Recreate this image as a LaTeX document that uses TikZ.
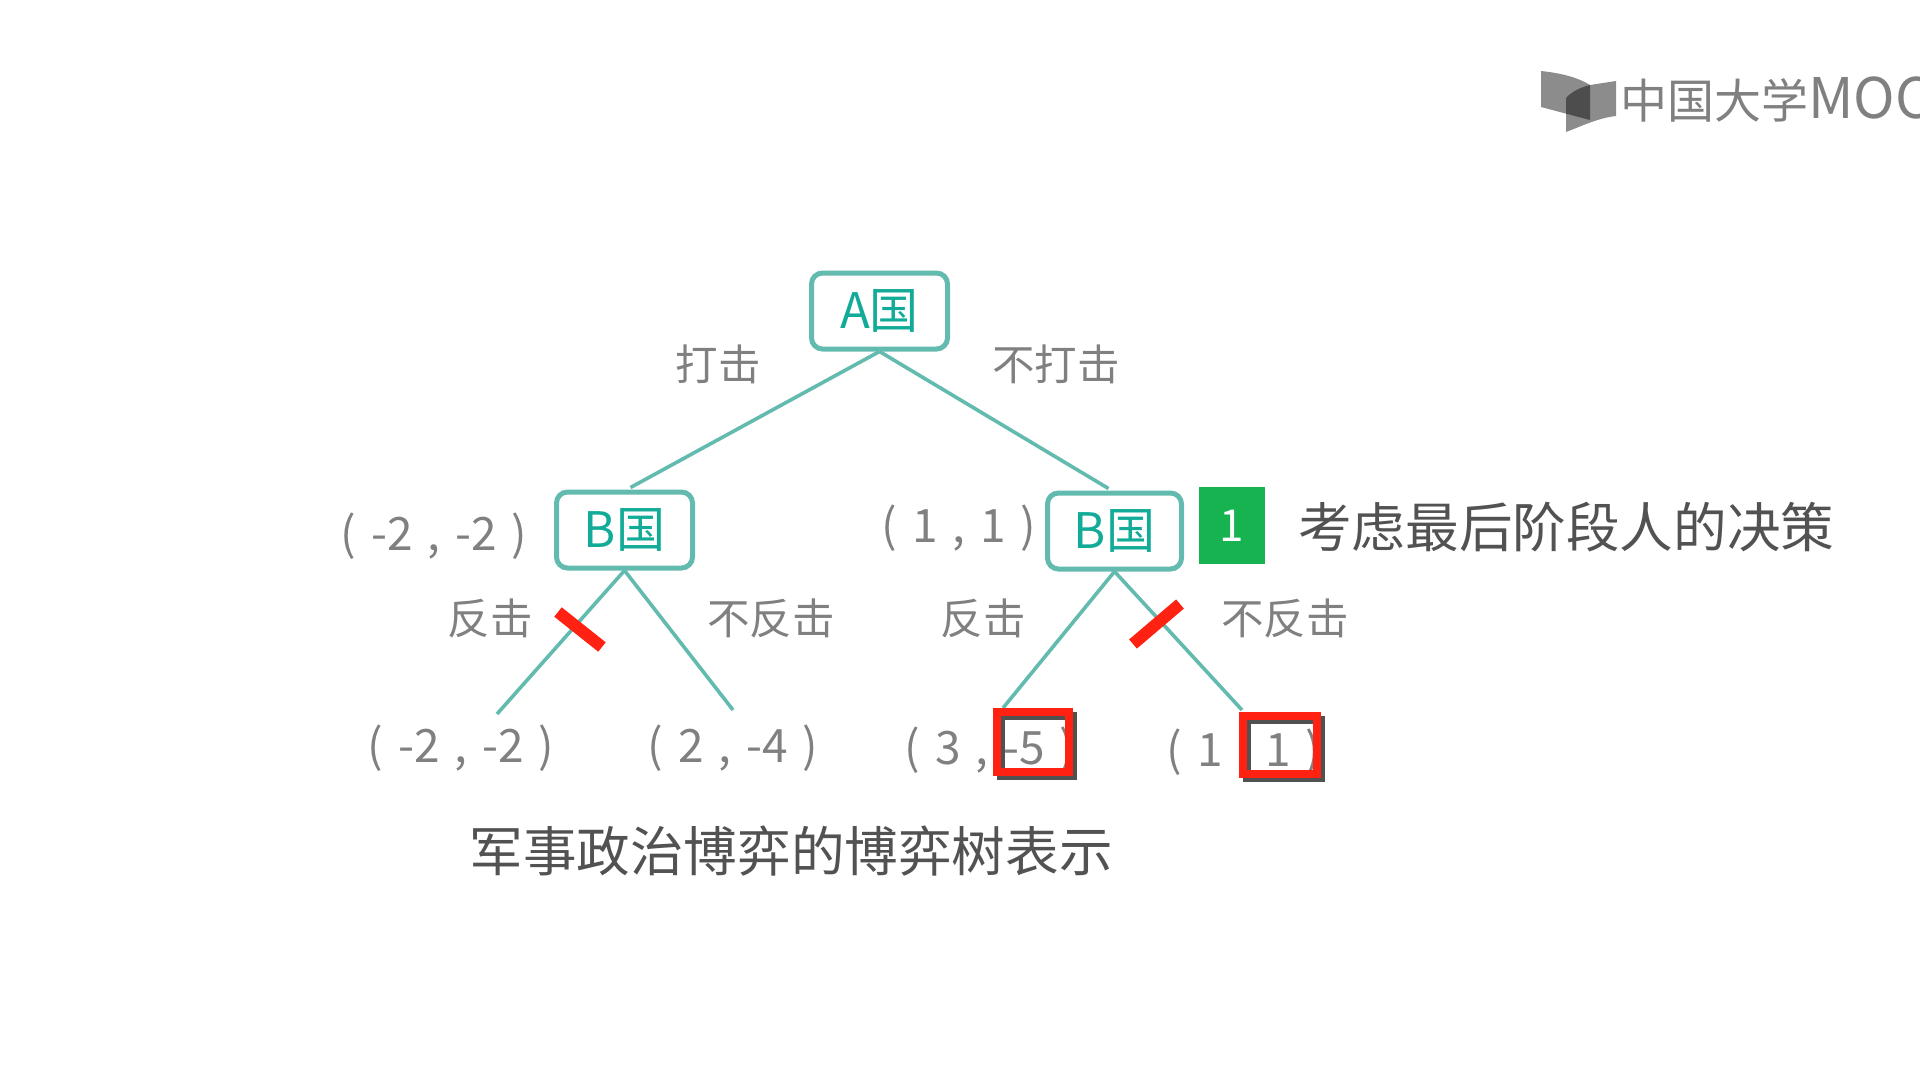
\documentclass[tikz,border=0pt]{standalone}
\usepackage{fontspec}
\setmainfont{Noto Sans CJK SC}
\definecolor{branchteal}{HTML}{62BBAE}
\definecolor{nameteal}{HTML}{12AB97}
\definecolor{stepgreen}{HTML}{17B350}
\definecolor{cutred}{HTML}{FF2212}
\newcommand{\gap}{\hspace{15pt}}
\tikzset{
	teambox/.style={draw=branchteal, line width=5pt, rounded corners=11pt, minimum width=136pt, minimum height=76pt, inner sep=0pt, text=nameteal, font=\fontsize{49}{49}\selectfont},
	branch/.style={draw=branchteal, line width=3.6pt},
	move/.style={text=black!50, inner sep=0pt, font=\fontsize{42.5}{42.5}\selectfont},
	payoff/.style={text=black!50, inner sep=0pt, font=\fontsize{46}{46}\selectfont},
	caption/.style={text=black!68, inner sep=0pt, font=\fontsize{53.6}{53.6}\selectfont},
	cut/.style={draw=cutred, line width=12pt},
	pick/.style={draw=cutred, line width=8pt},
	pickshadow/.style={draw=black!80, line width=8pt, opacity=.85},
}
\begin{document}
\begin{tikzpicture}[x=1pt,y=-1pt]
			\useasboundingbox (0,0) rectangle (1920,1080);

			% logo
			\fill[black, opacity=.45] (1541,71) .. controls (1560,73) and (1577,77) .. (1590,85) -- (1590,120) -- (1541,107) -- cycle;
			\fill[black, opacity=.45] (1566,98) .. controls (1572,91) and (1582,87) .. (1590,85) -- (1616,81) -- (1616,116) .. controls (1598,118) and (1582,126) .. (1566,132) -- cycle;
			\node(logotext) [anchor=west, inner sep=0pt, text=black!50, font=\fontsize{47}{47}\selectfont] at (1620,99) {中国大学{\fontsize{56}{56}\selectfont MOC}};

			% tree
			\node(teamA) [teambox] at (879.5,311) {A国};
			\node(teamBleft) [teambox] at (624.5,530) {B国};
			\node(teamBright) [teambox, minimum width=134pt] at (1114.5,531) {B国};

			\coordinate(endLL) at (497,714);
			\coordinate(endLR) at (733,710);
			\coordinate(endRL) at (1003,708);
			\coordinate(endRR) at (1242,710);

			\draw[branch] (teamA.south) -- ([xshift=6pt,yshift=2pt]teamBleft.north);
			\draw[branch] (teamA.south) -- ([xshift=-6pt,yshift=2pt]teamBright.north);
			\draw[branch] (teamBleft.south) -- (endLL);
			\draw[branch] (teamBleft.south) -- (endLR);
			\draw[branch] (teamBright.south) -- (endRL);
			\draw[branch] (teamBright.south) -- (endRR);

			\node(hitA) [move] at (718,364) {打击};
			\node(holdA) [move] at (1056,364) {不打击};
			\node(hitL) [move] at (490,618) {反击};
			\node(holdL) [move] at (771,618) {不反击};
			\node(hitR) [move] at (983,618) {反击};
			\node(holdR) [move] at (1285,618) {不反击};

			\node(payBleft) [payoff] at (434,536) {(\gap-2\gap,\gap-2\gap)};
			\node(payBright) [payoff] at (959,528) {(\gap1\gap,\gap1\gap)};
			\node(payLL) [payoff] at (461,748) {(\gap-2\gap,\gap-2\gap)};
			\node(payLR) [payoff] at (733,748) {(\gap2\gap,\gap-4\gap)};
			\node(payRL) [payoff] at (990,750) {(\gap3\gap,\gap-5\gap)};
			\node(payRR) [payoff] at (1244,752) {(\gap1\gap,\gap1\gap)};

			% cuts
			\coordinate(cutLa) at (558,612);
			\coordinate(cutLb) at (602,647);
			\coordinate(cutRa) at (1180,604);
			\coordinate(cutRb) at (1133,644);
			\draw[cut] (cutLa) -- (cutLb);
			\draw[cut] (cutRa) -- (cutRb);

			% picks
			\draw[pickshadow] (1001,716) rectangle (1073,776);
			\draw[pick] (997,712) rectangle (1069,772);
			\draw[pickshadow] (1247,720) rectangle (1321,778);
			\draw[pick] (1243,716) rectangle (1317,774);

			% stage
			\node(stage) [fill=stepgreen, text=white, minimum width=66pt, minimum height=77pt, inner sep=0pt, font=\fontsize{44}{44}\selectfont] at (1232,525.5) {1};
			\node(stagetext) [caption, anchor=west] at (1298,527) {考虑最后阶段人的决策};
			\node(title) [caption] at (791,851) {军事政治博弈的博弈树表示};
		\end{tikzpicture}
\end{document}
